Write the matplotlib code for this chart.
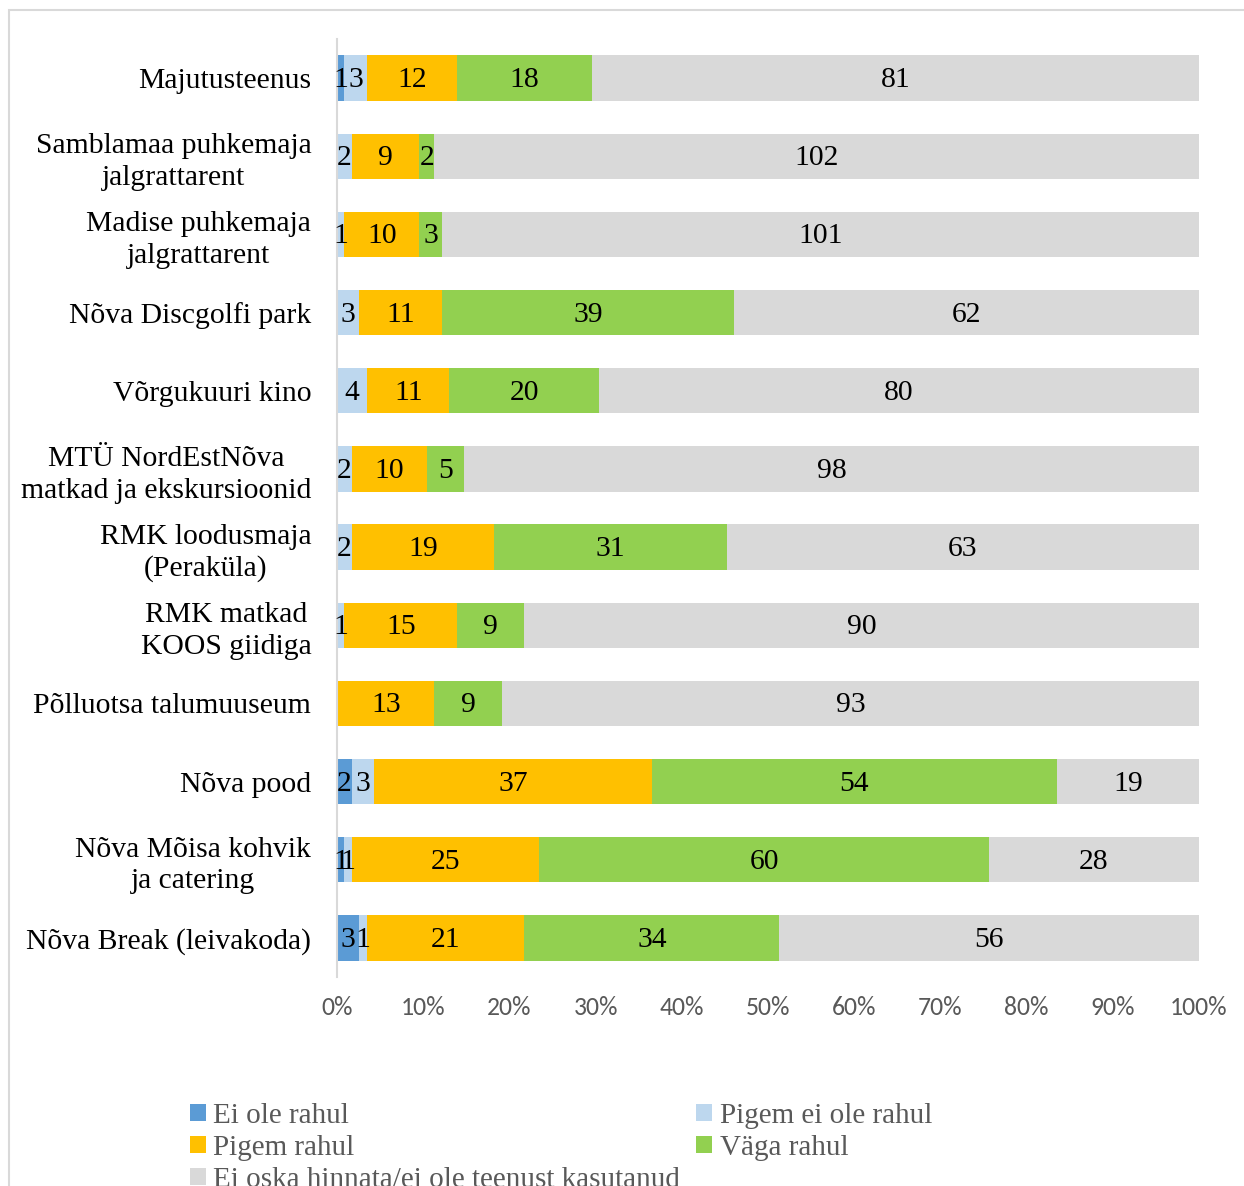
import numpy as np
import matplotlib
matplotlib.use("Agg")
import matplotlib.pyplot as plt
from matplotlib.patches import Rectangle
from matplotlib.ticker import PercentFormatter

categories = [
    "Majutusteenus",
    "Samblamaa puhkemaja\njalgrattarent",
    "Madise puhkemaja\njalgrattarent",
    "Nõva Discgolfi park",
    "Võrgukuuri kino",
    "MTÜ NordEstNõva\nmatkad ja ekskursioonid",
    "RMK loodusmaja\n(Peraküla)",
    "RMK matkad\nKOOS giidiga",
    "Põlluotsa talumuuseum",
    "Nõva pood",
    "Nõva Mõisa kohvik\nja catering",
    "Nõva Break (leivakoda)",
]
series_names = ["Ei ole rahul", "Pigem ei ole rahul", "Pigem rahul", "Väga rahul",
                "Ei oska hinnata/ei ole teenust kasutanud"]
ei_ole = [1, 0, 0, 0, 0, 0, 0, 0, 0, 2, 1, 3]
pigem_ei = [3, 2, 1, 3, 4, 2, 2, 1, 0, 3, 1, 1]
pigem_rahul = [12, 9, 10, 11, 11, 10, 19, 15, 13, 37, 25, 21]
vaga_rahul = [18, 2, 3, 39, 20, 5, 31, 9, 9, 54, 60, 34]
ei_oska = [81, 102, 101, 62, 80, 98, 63, 90, 93, 19, 28, 56]
colors = ["#5b9bd5", "#bdd7ee", "#ffc000", "#92d050", "#d9d9d9"]
xticks = [0, 0.1, 0.2, 0.3, 0.4, 0.5, 0.6, 0.7, 0.8, 0.9, 1.0]

W, H = 1244, 1186
FS = 21.3
fig = plt.figure(figsize=(W / 100, H / 100), dpi=100)
fig.patches.append(Rectangle((9 / W, -0.1), 1.2, 1.1 - 10 / H, transform=fig.transFigure,
                             fill=False, edgecolor="#d9d9d9", linewidth=1.5, zorder=0))

ax = fig.add_axes([337 / W, 1 - 977 / H, (1199 - 337) / W, (977 - 39) / H])

data = np.array([ei_ole, pigem_ei, pigem_rahul, vaga_rahul, ei_oska], dtype=float)
totals = data.sum(axis=0)
frac = data / totals
y = np.arange(len(categories))
left = np.zeros(len(categories))
serif = ["Liberation Serif", "DejaVu Serif"]
handles = []
for i in range(5):
    bars = ax.barh(y, frac[i], left=left, height=0.58, color=colors[i],
                   label=series_names[i], linewidth=0)
    handles.append(bars)
    labels = [str(int(v)) if v > 0 else "" for v in data[i]]
    anns = ax.bar_label(bars, labels=labels, label_type="center", fontsize=FS,
                        family=serif, color="black")
    for a in anns:
        a.set_position((0, -1.5))
    left += frac[i]

ax.set_xlim(0, 1)
ax.set_ylim(len(categories) - 0.5, -0.5)
ax.set_yticks(y)
ax.set_yticklabels(categories, family=serif, fontsize=FS, linespacing=1.28)
for lbl in ax.get_yticklabels():
    lbl.set_multialignment("center")
ax.set_xticks(xticks)
ax.xaxis.set_major_formatter(PercentFormatter(1.0, decimals=0))
for lbl in ax.get_xticklabels():
    lbl.set_family(["Carlito", "Lato", "DejaVu Sans"])
    lbl.set_fontsize(18.5)
    lbl.set_color("#595959")
ax.tick_params(axis="y", length=0, pad=18.5)
ax.tick_params(axis="x", length=0, pad=14)
for s in ["top", "right", "bottom"]:
    ax.spines[s].set_visible(False)
ax.spines["left"].set_color("#d9d9d9")
ax.spines["left"].set_linewidth(1.5)

order = [0, 2, 4, 1, 3]
leg = fig.legend([handles[k] for k in order], [series_names[k] for k in order],
                 loc="upper left", bbox_to_anchor=(190 / W, 1 - 1103 / H), ncol=2,
                 frameon=False, prop={"family": serif, "size": 21.0},
                 handlelength=0.55, handleheight=0.55, handletextpad=0.25,
                 columnspacing=0.55, labelspacing=0.2, borderpad=0, borderaxespad=0)
for t in leg.get_texts():
    t.set_color("#595959")

fig.savefig("out.png", dpi=100)
